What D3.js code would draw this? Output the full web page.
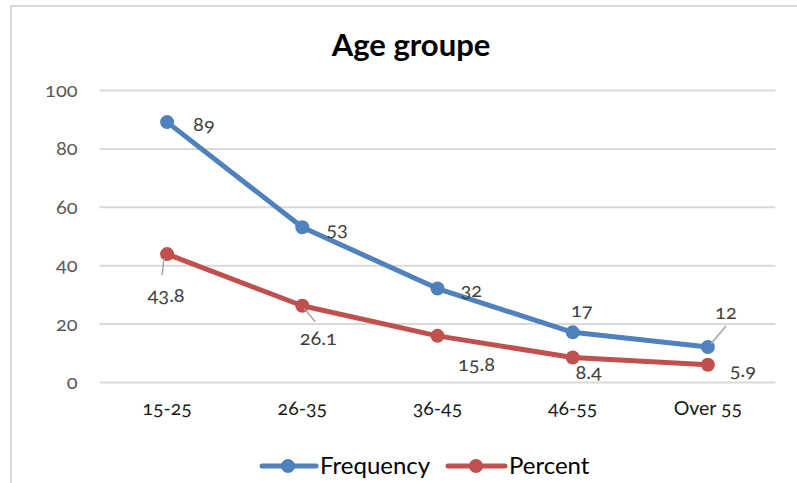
<!DOCTYPE html>
<html><head><meta charset="utf-8">
<script src="https://cdn.jsdelivr.net/npm/d3@7"></script>
<style>
body{margin:0;background:#fff;}
text{font-family:Lato,"Open Sans",sans-serif;}
.num{font-feature-settings:"onum";}
</style></head>
<body><svg id="c" width="797" height="483"></svg>
<script>
const categories=["15-25","26-35","36-45","46-55","Over 55"];
const frequency=[89,53,32,17,12];
const percent=[43.8,26.1,15.8,8.4,5.9];
const yTicks=[0,20,40,60,80,100];
const seriesNames=["Frequency","Percent"];
const colors=["#4F81BD","#C0504D"];
// label offsets [dx,dy,anchor]
const freqLabelPos=[[26,9,"start"],[24,9,"start"],[23,8,"start"],[9,-15,"middle"],[18,-28,"middle"]];
const pctLabelPos=[[-1,48,"middle"],[16,39,"middle"],[39,35,"middle"],[16,22,"middle"],[35,12,"middle"]];

const svg=d3.select("#c");
svg.append("path").attr("d","M11,483V6H797").attr("fill","none").attr("stroke","#d9d9d9").attr("stroke-width",2);

const x=d3.scaleBand().domain(categories).range([99.5,775.5]);
const y=d3.scaleLinear().domain([0,100]).range([382,90]);

svg.append("text").attr("x",411).attr("y",56).attr("text-anchor","middle")
 .style("font-size","31px").style("font-weight","bold").attr("fill","#000").text("Age groupe");

const ya=svg.append("g").attr("transform","translate(99.5,0)")
 .call(d3.axisLeft(y).tickValues(yTicks).tickSize(-676).tickPadding(22));
ya.select(".domain").remove();
ya.selectAll("line").attr("stroke","#d9d9d9").attr("stroke-width",2);
ya.selectAll("text").attr("class","num").attr("fill","#595959").style("font-size","20px").attr("dx","0");

const xa=svg.append("g").attr("transform","translate(0,382)")
 .call(d3.axisBottom(x).tickSize(0).tickPadding(19));
xa.select(".domain").remove();
xa.selectAll("text").attr("class","num").attr("fill","#1a1a1a").style("font-size","19.5px");

const cx=c=>x(c)+x.bandwidth()/2;
const line=d3.line().x((d,i)=>cx(categories[i])).y(d=>y(d));
[frequency,percent].forEach((vals,si)=>{
  svg.append("path").datum(vals).attr("d",line).attr("fill","none")
   .attr("stroke",colors[si]).attr("stroke-width",5).attr("stroke-linejoin","round");
  svg.selectAll(null).data(vals).enter().append("circle")
   .attr("cx",(d,i)=>cx(categories[i])).attr("cy",d=>y(d)).attr("r",7).attr("fill",colors[si]);
});
// leader lines
const leaders=[[percent,0,-3,4,-5,21],[percent,1,2,3,13,16],[frequency,4,3,-3,18,-21]];
leaders.forEach(([vals,i,x1,y1,x2,y2])=>{
  const px=cx(categories[i]),py=y(vals[i]);
  svg.append("line").attr("x1",px+x1).attr("y1",py+y1).attr("x2",px+x2).attr("y2",py+y2)
   .attr("stroke","#a6a6a6").attr("stroke-width",1.5);
});
[[frequency,freqLabelPos],[percent,pctLabelPos]].forEach(([vals,pos])=>{
  svg.selectAll(null).data(vals).enter().append("text").attr("class","num")
   .attr("x",(d,i)=>cx(categories[i])+pos[i][0]).attr("y",(d,i)=>y(d)+pos[i][1])
   .attr("text-anchor",(d,i)=>pos[i][2]).attr("fill","#404040").style("font-size","20px")
   .text(d=>d);
});
// legend
const lg=[[262,316,288,320],[448,505,476,509]];
seriesNames.forEach((n,i)=>{
  const [a,b,m,t]=lg[i];
  svg.append("line").attr("x1",a).attr("x2",b).attr("y1",466).attr("y2",466)
   .attr("stroke",colors[i]).attr("stroke-width",5).attr("stroke-linecap","round");
  svg.append("circle").attr("cx",m).attr("cy",466).attr("r",7).attr("fill",colors[i]);
  svg.append("text").attr("x",t).attr("y",474).style("font-size","24px").attr("fill","#000").text(n);
});
</script></body></html>
